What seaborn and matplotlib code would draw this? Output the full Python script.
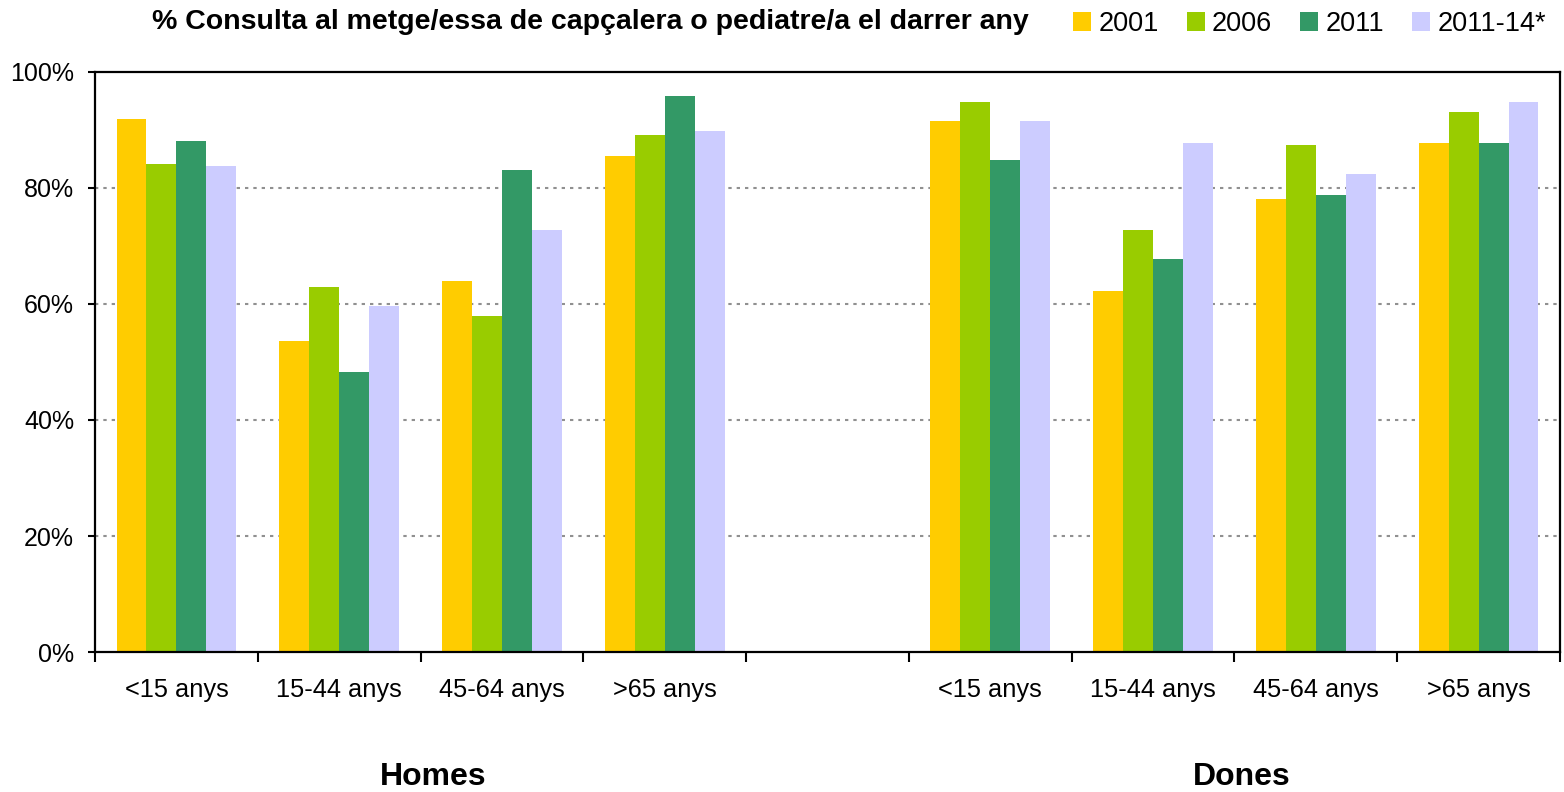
import matplotlib
matplotlib.use("Agg")
import matplotlib.pyplot as plt
import numpy as np
import pandas as pd
import seaborn as sns

years = ["2001", "2006", "2011", "2011-14*"]
colors = ["#FFCC00", "#99CC00", "#339966", "#CCCCFF"]
age_labels = ["<15 anys", "15-44 anys", "45-64 anys", ">65 anys"]

homes_2001 = [91.9, 53.6, 64.0, 85.5]
homes_2006 = [84.1, 62.9, 57.9, 89.1]
homes_2011 = [88.1, 48.3, 83.1, 95.9]
homes_2014 = [83.8, 59.7, 72.8, 89.8]

dones_2001 = [91.6, 62.2, 78.1, 87.8]
dones_2006 = [94.8, 72.8, 87.4, 93.1]
dones_2011 = [84.8, 67.8, 78.8, 87.8]
dones_2014 = [91.6, 87.8, 82.4, 94.8]

# long-form table; the empty slot between the two groups has no rows
rows = []
for sex, series in [("Homes", [homes_2001, homes_2006, homes_2011, homes_2014]),
                    ("Dones", [dones_2001, dones_2006, dones_2011, dones_2014])]:
    for year, vals in zip(years, series):
        for age, v in zip(age_labels, vals):
            rows.append({"cat": sex + " " + age, "year": year, "val": v})
df = pd.DataFrame(rows)

order = ["Homes " + a for a in age_labels] + ["gap"] + ["Dones " + a for a in age_labels]

sns.set_style("white")
plt.rcParams["font.family"] = ["Liberation Sans", "DejaVu Sans"]
plt.rcParams["text.color"] = "black"
plt.rcParams["xtick.color"] = "black"
plt.rcParams["ytick.color"] = "black"

fig = plt.figure(figsize=(15.64, 7.92), dpi=100)
ax = fig.add_axes([95 / 1564, 1 - 652 / 792, (1560 - 95) / 1564, (652 - 72) / 792])

sns.barplot(data=df, x="cat", y="val", hue="year", order=order, hue_order=years,
            palette=colors, saturation=1, width=0.735, errorbar=None,
            linewidth=0, ax=ax)

ax.set_xlim(-0.5, len(order) - 0.5)
ax.set_ylim(0, 100)
ax.set_yticks(np.arange(0, 101, 20))
ax.set_yticklabels([f"{v}%" for v in range(0, 101, 20)], fontsize=18)
ax.set_xticks(range(len(order)))
ax.set_xticklabels(age_labels + [""] + age_labels, fontsize=18.3)
ax.set_xticks(np.arange(-0.5, len(order), 1), minor=True)
ax.tick_params(axis="x", which="major", bottom=True, length=0, pad=19)
ax.tick_params(axis="x", which="minor", bottom=True, length=7, width=1.5, direction="out")
ax.tick_params(axis="y", left=True, length=5, width=1.5, direction="out", pad=10)
ax.set_xlabel("")
ax.set_ylabel("")

for y in [20, 40, 60, 80]:
    ax.axhline(y, color="#909090", linewidth=1.5, linestyle=(0, (1.6, 2.4)), zorder=0)

for s in ax.spines.values():
    s.set_visible(True)
    s.set_color("black")
    s.set_linewidth(1.6)

handles, labels = ax.get_legend_handles_labels()
ax.get_legend().remove()
fig.legend(handles, labels, loc="center left", bbox_to_anchor=(1073 / 1564, 1 - 24 / 792),
           ncol=4, frameon=False, fontsize=19.5, handlelength=0.67, handleheight=0.7,
           handletextpad=0.26, columnspacing=1.04, borderpad=0, borderaxespad=0)

fig.text(590 / 1564, 1 - 22 / 792,
         "% Consulta al metge/essa de capçalera o pediatre/a el darrer any",
         ha="center", va="center", fontsize=20.5, fontweight="bold")

fig.text(433 / 1564, 1 - 777 / 792, "Homes", ha="center", va="center",
         fontsize=23, fontweight="bold")
fig.text(1242 / 1564, 1 - 777 / 792, "Dones", ha="center", va="center",
         fontsize=23, fontweight="bold")

fig.savefig("out.png", dpi=100)
